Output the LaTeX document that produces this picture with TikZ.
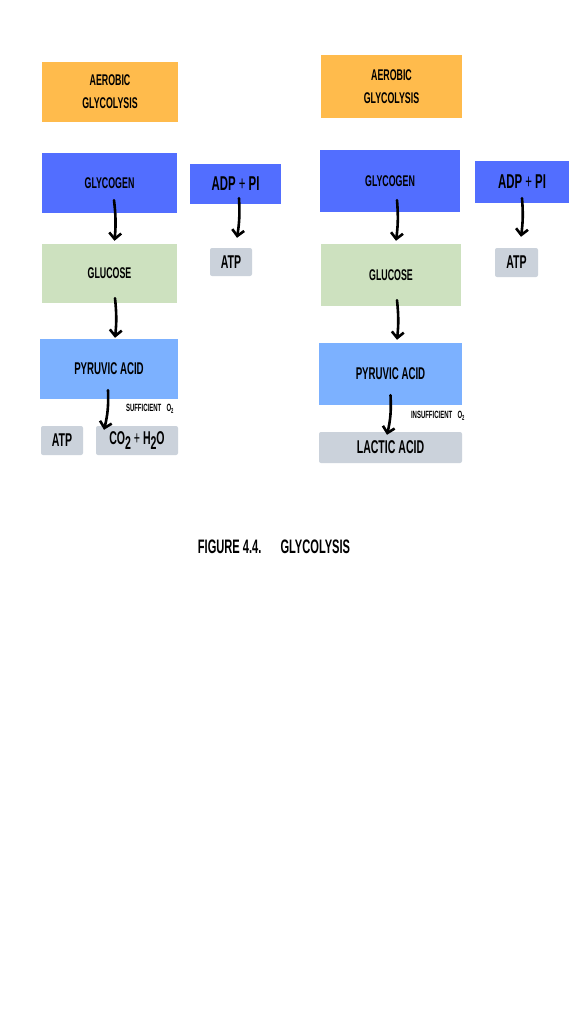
\documentclass[tikz,border=0pt]{standalone}
\usepackage{fontspec}
\usepackage{tikz}
\usetikzlibrary{arrows.meta}
\newfontfamily\narrowfont{Liberation Sans}[FakeStretch=0.57]
\tikzstyle{box} = [rectangle, inner sep=0pt, align=center, font=\narrowfont\bfseries\fontsize{15.5}{23}\selectfont]
\tikzstyle{small} = [box, rounded corners=2pt, fill=stonegray, font=\narrowfont\bfseries\fontsize{18.5}{20}\selectfont]
\tikzstyle{flow} = [line width=2.6pt, line cap=round, -{Straight Barb[length=6pt,width=12pt]}]
\definecolor{sunorange}{HTML}{FFBB4C}
\definecolor{royalblue}{HTML}{526EFF}
\definecolor{sagegreen}{HTML}{CDE1BF}
\definecolor{skyblue}{HTML}{7CB1FF}
\definecolor{stonegray}{HTML}{CBD2DB}
\newcommand{\lowtwo}{\raisebox{-0.28em}{2}}

\begin{document}
\begin{tikzpicture}[x=1pt,y=-1pt]
			\useasboundingbox[fill=white] (0,0) rectangle (576,1024);
			% left column
			\node[box, fill=sunorange, minimum width=136, minimum height=60] (aerL) at (110,92) {AEROBIC\\GLYCOLYSIS};
			\node[box, fill=royalblue, minimum width=135, minimum height=60] (glyL) at (109.5,183) {GLYCOGEN};
			\node[box, fill=royalblue, minimum width=91, minimum height=40, font=\narrowfont\bfseries\fontsize{20}{22}\selectfont] (adpL) at (235.5,184) {ADP {\mdseries+} PI};
			\node[small, minimum width=42, minimum height=28] (atpLa) at (231,262) {ATP};
			\node[box, fill=sagegreen, minimum width=135, minimum height=59] (gluL) at (109.5,273.5) {GLUCOSE};
			\node[box, fill=skyblue, minimum width=138, minimum height=60, font=\narrowfont\bfseries\fontsize{17}{20}\selectfont] (pyrL) at (109,369) {PYRUVIC ACID};
			\node[small, minimum width=42, minimum height=29] (atpLb) at (62,440.5) {ATP};
			\node[small, minimum width=82, minimum height=29] (co2L) at (137,440.5) {CO\lowtwo{} {\mdseries+} H\lowtwo O};
			\node[font=\narrowfont\bfseries\fontsize{10.5}{11}\selectfont] (sufL) at (150,409) {SUFFICIENT\enspace O\textsubscript{2}};
			% right column
			\node[box, fill=sunorange, minimum width=141, minimum height=63] (aerR) at (391.5,86.5) {AEROBIC\\GLYCOLYSIS};
			\node[box, fill=royalblue, minimum width=140, minimum height=62] (glyR) at (390,181) {GLYCOGEN};
			\node[box, fill=royalblue, minimum width=94, minimum height=42, font=\narrowfont\bfseries\fontsize{20}{22}\selectfont] (adpR) at (522,182) {ADP {\mdseries+} PI};
			\node[small, minimum width=43, minimum height=29] (atpR) at (516.5,262.5) {ATP};
			\node[box, fill=sagegreen, minimum width=140, minimum height=62] (gluR) at (391,275) {GLUCOSE};
			\node[box, fill=skyblue, minimum width=143, minimum height=62, font=\narrowfont\bfseries\fontsize{17}{20}\selectfont] (pyrR) at (390.5,374) {PYRUVIC ACID};
			\node[small, minimum width=143, minimum height=31] (lacR) at (390.5,447.5) {LACTIC ACID};
			\node[font=\narrowfont\bfseries\fontsize{10.5}{11}\selectfont] (insR) at (438,416) {INSUFFICIENT\enspace O\textsubscript{2}};
			% caption
			\node[font=\narrowfont\bfseries\fontsize{19.5}{22}\selectfont] (caption) at (274,547) {FIGURE 4.4.\hspace{19pt}GLYCOLYSIS};
			% arrows
			\draw[flow] ([xshift=4.5pt,yshift=13pt]glyL.south) to[bend left=6] ([xshift=5pt,yshift=3pt]gluL.north);
			\draw[flow] ([xshift=5.5pt,yshift=5pt]gluL.south) to[bend left=6] ([xshift=6pt,yshift=1pt]pyrL.north);
			\draw[flow] ([xshift=-1pt,yshift=9pt]pyrL.south) to[bend left=8] ([xshift=-33pt,yshift=-4pt]co2L.north);
			\draw[flow] ([xshift=3.5pt,yshift=6pt]adpL.south) to[bend left=6] ([xshift=6pt,yshift=10pt]atpLa.north);
			\draw[flow] ([xshift=7pt,yshift=12pt]glyR.south) to[bend left=6] ([xshift=5pt,yshift=3pt]gluR.north);
			\draw[flow] ([xshift=6pt,yshift=6pt]gluR.south) to[bend left=6] ([xshift=6.5pt,yshift=3pt]pyrR.north);
			\draw[flow] ([yshift=10pt]pyrR.south) to[bend left=8] ([xshift=-3.5pt,yshift=-3pt]lacR.north);
			\draw[flow] ([yshift=5pt]adpR.south) to[bend left=6] ([xshift=4.5pt,yshift=11pt]atpR.north);
		\end{tikzpicture}
\end{document}
